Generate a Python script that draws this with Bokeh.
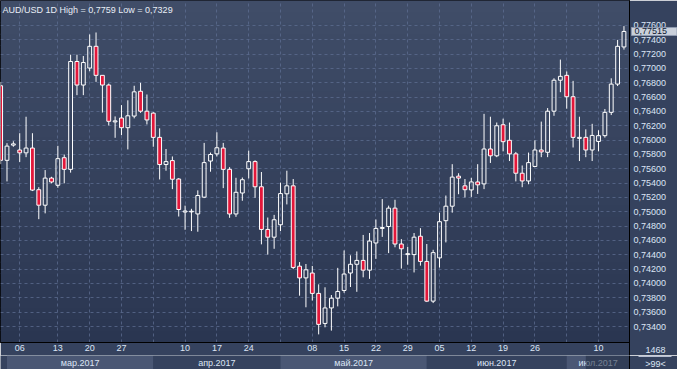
import numpy as np
from bokeh.plotting import figure
from bokeh.models import (Range1d, FixedTicker, CustomJSTickFormatter, BoxAnnotation,
                          Label, ColumnDataSource)
from bokeh.layouts import column
from bokeh.core.properties import value
from bokeh.embed import file_html
from bokeh.resources import INLINE

# ---------------- data (AUD/USD daily candles) ----------------
opens = [0.76758, 0.75718, 0.75930, 0.75862, 0.75822, 0.75889, 0.75308, 0.75092, 0.75470, 0.75370,
         0.75754, 0.75592, 0.77096, 0.76768, 0.77005, 0.77308, 0.76903, 0.76768, 0.76254, 0.76308,
         0.76173, 0.76335, 0.76681, 0.76403, 0.76376, 0.76038, 0.75659, 0.75714, 0.75457, 0.74997,
         0.74999, 0.74970, 0.75204, 0.75708, 0.75808, 0.75889, 0.75592, 0.74970, 0.75262, 0.75600,
         0.75700, 0.75349, 0.74754, 0.74646, 0.74819, 0.75251, 0.75362, 0.74241, 0.74078, 0.74146,
         0.73862, 0.73443, 0.73659, 0.73795, 0.73903, 0.74146, 0.74268, 0.74322, 0.74186, 0.74565,
         0.74768, 0.74795, 0.75051, 0.74551, 0.74403, 0.74403, 0.74659, 0.74308, 0.73754, 0.74357,
         0.74876, 0.75078, 0.75497, 0.75362, 0.75305, 0.75416, 0.75389, 0.75876, 0.75781, 0.76214,
         0.75997, 0.75808, 0.75538, 0.75430, 0.75632, 0.75862, 0.75830, 0.76403, 0.76835, 0.76903,
         0.76605, 0.76024, 0.76038, 0.75862, 0.75981, 0.76062, 0.76387, 0.76781, 0.77299]
highs = [0.76812, 0.75957, 0.75984, 0.76096, 0.76326, 0.76096, 0.75343, 0.75582, 0.75488, 0.75920,
         0.75799, 0.77191, 0.77191, 0.77173, 0.77474, 0.77501, 0.76903, 0.76789, 0.76330, 0.76488,
         0.76555, 0.76758, 0.76799, 0.76636, 0.76389, 0.76164, 0.75876, 0.75772, 0.75470, 0.75086,
         0.75042, 0.75299, 0.75961, 0.75826, 0.76109, 0.75961, 0.75623, 0.75474, 0.75478, 0.75853,
         0.75718, 0.75555, 0.74920, 0.74957, 0.75407, 0.75573, 0.75457, 0.74299, 0.74272, 0.74245,
         0.73988, 0.73947, 0.73839, 0.74218, 0.74461, 0.74393, 0.74447, 0.74677, 0.74704, 0.74893,
         0.75177, 0.75086, 0.75168, 0.74619, 0.74511, 0.74704, 0.74772, 0.74551, 0.74470, 0.74988,
         0.75227, 0.75664, 0.75538, 0.75457, 0.75474, 0.75664, 0.76366, 0.76326, 0.76245, 0.76299,
         0.76245, 0.75835, 0.75646, 0.75826, 0.75997, 0.76258, 0.76447, 0.76862, 0.77123, 0.76957,
         0.76826, 0.76326, 0.76150, 0.76227, 0.76137, 0.76434, 0.76862, 0.77397, 0.77590]
lows = [0.75664, 0.75424, 0.75907, 0.75695, 0.75762, 0.75289, 0.74897, 0.74978, 0.75397, 0.75335,
        0.75397, 0.75546, 0.76627, 0.76627, 0.76961, 0.76812, 0.76384, 0.76204, 0.76032, 0.76069,
        0.75870, 0.76303, 0.76380, 0.76218, 0.75907, 0.75451, 0.75573, 0.75316, 0.74934, 0.74749,
        0.74731, 0.74722, 0.75191, 0.75559, 0.75772, 0.75330, 0.74916, 0.74930, 0.75154, 0.75465,
        0.75195, 0.74546, 0.74403, 0.74484, 0.74731, 0.75103, 0.74200, 0.73830, 0.73668, 0.73762,
        0.73290, 0.73389, 0.73343, 0.73681, 0.73870, 0.73951, 0.73884, 0.74086, 0.74065, 0.74343,
        0.74650, 0.74424, 0.74505, 0.74208, 0.74262, 0.74154, 0.74249, 0.73741, 0.73727, 0.74222,
        0.74573, 0.74988, 0.75245, 0.75200, 0.75208, 0.75249, 0.75316, 0.75681, 0.75762, 0.75843,
        0.75708, 0.75424, 0.75343, 0.75384, 0.75623, 0.75762, 0.75762, 0.76339, 0.76668, 0.76438,
        0.75897, 0.75708, 0.75762, 0.75708, 0.75843, 0.76035, 0.76349, 0.76754, 0.77262]
closes = [0.75718, 0.75916, 0.75947, 0.75822, 0.75889, 0.75303, 0.75092, 0.75470, 0.75416, 0.75741,
          0.75592, 0.77096, 0.76768, 0.77082, 0.77308, 0.76903, 0.76768, 0.76262, 0.76268, 0.76173,
          0.76339, 0.76673, 0.76403, 0.76281, 0.76038, 0.75659, 0.75700, 0.75454, 0.75032, 0.75011,
          0.75008, 0.75227, 0.75686, 0.75799, 0.75893, 0.75592, 0.74970, 0.75272, 0.75447, 0.75700,
          0.75349, 0.74754, 0.74646, 0.74889, 0.75254, 0.75362, 0.74224, 0.74078, 0.74191, 0.73862,
          0.73430, 0.73659, 0.73795, 0.73889, 0.74132, 0.74268, 0.74322, 0.74186, 0.74592, 0.74768,
          0.74781, 0.75051, 0.74551, 0.74484, 0.74416, 0.74646, 0.74308, 0.73754, 0.74430, 0.74862,
          0.75078, 0.75484, 0.75470, 0.75308, 0.75416, 0.75376, 0.75876, 0.75781, 0.76200, 0.75978,
          0.75808, 0.75538, 0.75430, 0.75686, 0.75862, 0.75835, 0.76403, 0.76835, 0.76889, 0.76605,
          0.76038, 0.76038, 0.75862, 0.76065, 0.76062, 0.76387, 0.76781, 0.77308, 0.77515]

day_ticks = [3, 9, 14, 19, 24, 29, 34, 39, 44, 49, 54, 59, 64, 69, 74, 79, 84, 89, 94]
day_labels = ["06", "13", "20", "27", "", "10", "17", "24", "", "08", "15", "22", "29",
              "05", "12", "19", "26", "", "10"]
month_starts = [1, 24, 44, 67, 89]
month_labels = ["мар.2017", "апр.2017", "май.2017", "июн.2017", "июл.2017"]
price_ticks = [round(0.734 + 0.002 * i, 3) for i in range(22)]
bar_count = 1468

# ---------------- styling ----------------
FONT = "Liberation Sans"
TXT = "#dce5f5"
RED = "#e3173a"
BORDER_BG = "#35425e"
W, FRAME_W, FRAME_H, RIGHT_W, BOTTOM_H = 677, 629, 342, 48, 13
X0, X1 = -0.02, 98.87
Y0, Y1 = 0.73177, 0.77947
XS = (X1 - X0) / FRAME_W          # data units per pixel along x
YS = (Y1 - Y0) / FRAME_H          # data units per pixel along y

n = len(opens)
idx = list(range(n))
o = np.array(opens); c = np.array(closes); h = np.array(highs); l = np.array(lows)
body_top = np.maximum(o, c)
body_bot = np.minimum(o, c)
bear = c < o
fill = [RED if b else "#000000" for b in bear]
falpha = [1.0 if b else 0.0 for b in bear]

src = ColumnDataSource(dict(x=idx, top=body_top, bottom=body_bot, high=h, low=l,
                            fill=fill, falpha=falpha))

p = figure(width=W, height=FRAME_H + BOTTOM_H, x_range=Range1d(X0, X1), y_range=Range1d(Y0, Y1),
           y_axis_location="right", toolbar_location=None, output_backend="svg",
           min_border_left=0, min_border_right=RIGHT_W, min_border_top=0,
           min_border_bottom=BOTTOM_H,
           background_fill_color="#36435f", border_fill_color=BORDER_BG,
           outline_line_color="black", outline_line_width=1)

# vertical gradient background
top_rgb = np.array([64, 77, 104]); bot_rgb = np.array([42, 54, 81])
nb = 30
edges = np.linspace(Y0, Y1, nb + 1)
for i in range(nb):
    t = (i + 0.5) / nb
    col = bot_rgb + (top_rgb - bot_rgb) * t
    p.add_layout(BoxAnnotation(bottom=edges[i], top=edges[i + 1] + (Y1 - Y0) / 400,
                               fill_color="#%02x%02x%02x" % tuple(int(round(v)) for v in col),
                               fill_alpha=1, line_color=None, level="image"))

# axes / grid
p.xaxis.ticker = FixedTicker(ticks=day_ticks)
p.xaxis.major_label_overrides = dict(zip(day_ticks, day_labels))
p.yaxis.ticker = FixedTicker(ticks=price_ticks)
p.yaxis.formatter = CustomJSTickFormatter(code="return tick.toFixed(5).replace('.', ',');")
for ax in (p.xaxis, p.yaxis):
    ax.major_tick_out = 0
    ax.major_tick_in = 0
    ax.minor_tick_out = 0
    ax.minor_tick_in = 0
    ax.axis_line_color = "black"
    ax.major_label_text_color = TXT
    ax.major_label_text_font = FONT
    ax.major_label_text_font_size = "9px"
p.xaxis.major_label_standoff = 2
p.yaxis.major_label_standoff = 4
p.xgrid.ticker = FixedTicker(ticks=day_ticks)
p.ygrid.ticker = FixedTicker(ticks=price_ticks)
for g in (p.xgrid, p.ygrid):
    g.grid_line_color = "#5d6e91"
    g.grid_line_alpha = 0.75
    g.grid_line_dash = "3 3"
    g.grid_line_width = 1

# candles
p.segment(x0="x", y0="top", x1="x", y1="high", source=src, line_color="white", line_width=1)
p.segment(x0="x", y0="low", x1="x", y1="bottom", source=src, line_color="white", line_width=1)
p.vbar(x="x", top="top", bottom="bottom", width=0.6, source=src,
       fill_color="fill", fill_alpha="falpha", line_color="white", line_width=1)

# title inside the plot
fmt = lambda v, d: f"{v:.{d}f}".replace(".", ",")
p.add_layout(Label(x=0.3, y=0.77816,
                   text=f"AUD/USD 1D High = {fmt(max(highs), 4)} Low = {fmt(min(lows), 4)}",
                   text_color="#e8edf6", text_font=FONT, text_font_size="9px",
                   text_baseline="middle", text_align="left"))

# last price marker on the price scale (overlay level so it may sit over the axis)
p.text(x=[X1 + 2 * XS], y=[closes[-1]], text=[fmt(closes[-1], 5)], level="overlay",
       text_color="#101a33", text_font=value(FONT), text_font_size="9px",
       text_baseline="middle", text_align="left",
       background_fill_color="#c9d0db", background_fill_alpha=1,
       border_line_color="#8e9ab0", padding=dict(left=3, right=10, top=1, bottom=1))

# separator continuing through the date row, and the bar count in the corner
p.segment(x0=[X1], y0=[Y0], x1=[X1], y1=[Y0 - BOTTOM_H * YS], level="overlay",
          line_color="black", line_width=1)
p.text(x=[X1 + 26 * XS], y=[Y0 - 7 * YS], text=[str(bar_count)], level="overlay",
       text_color=TXT, text_font=value(FONT), text_font_size="9px",
       text_baseline="middle", text_align="center")

# ---------------- month strip ----------------
s = figure(width=W, height=14, x_range=p.x_range, y_range=Range1d(0, 1),
           toolbar_location=None, output_backend="svg", x_axis_location=None,
           y_axis_location=None, min_border_left=0, min_border_right=RIGHT_W,
           min_border_top=0, min_border_bottom=0,
           background_fill_color=BORDER_BG, border_fill_color=BORDER_BG,
           outline_line_color=None)
for g in s.grid:
    g.visible = False
ends = month_starts[1:] + [X1]
band_cols = ["#4a5774" if i % 2 == 0 else BORDER_BG for i in range(len(month_starts))]
s.quad(left=month_starts, right=ends, bottom=0, top=1, fill_color=band_cols, line_color=None)
centers = [(a + b) / 2 for a, b in zip(month_starts, ends)]
s.text(x=centers, y=[0.5] * len(centers), text=month_labels, text_align="center",
       text_baseline="middle", text_font=value(FONT), text_font_size="9px", text_color=TXT)
s.quad(left=[92], right=[X1], bottom=[0], top=[1], fill_color="#1f2940", fill_alpha=0.55,
       line_color=None)
s.segment(x0=[X1], y0=[0], x1=[X1], y1=[1], line_color="black", line_width=1, level="overlay")
s.segment(x0=[X1 + 9 * XS], y0=[0.93], x1=[X1 + 42 * XS], y1=[0.93], line_color=TXT,
          line_width=1, line_alpha=0.8, level="overlay")
s.text(x=[X1 + 26 * XS], y=[0.42], text=[">99<"], text_color=TXT, text_font=value(FONT),
       text_font_size="9px", text_baseline="middle", text_align="center", level="overlay")

layout = column(p, s, spacing=0)
open("out.html", "w").write(file_html(layout, INLINE))
